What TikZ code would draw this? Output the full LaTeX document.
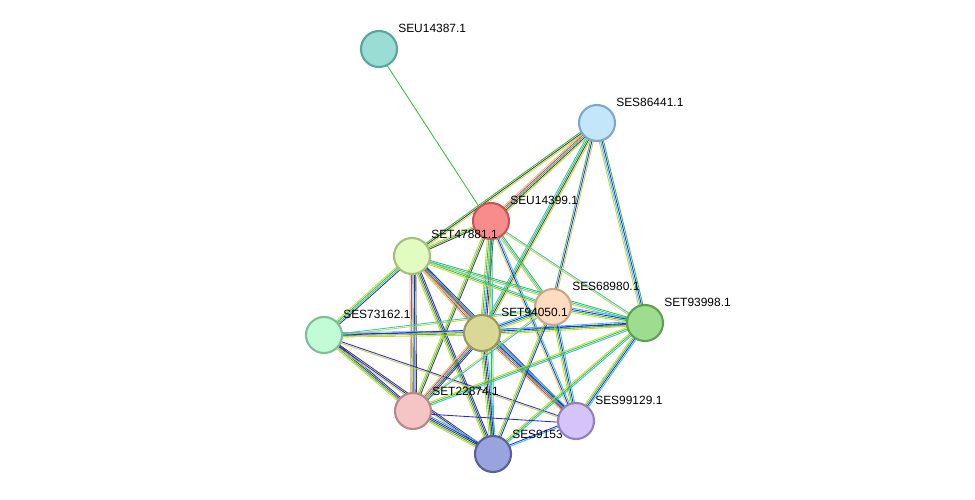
\documentclass[tikz,border=0pt]{standalone}
\usepackage{fontspec}
\setmainfont{Liberation Sans}
\usetikzlibrary{positioning,calc,backgrounds}
\definecolor{eY}{rgb}{0.78,0.84,0.2}
\definecolor{eG}{rgb}{0.2,0.75,0.2}
\definecolor{eB}{rgb}{0.15,0.15,0.95}
\definecolor{eC}{rgb}{0.2,0.75,0.85}
\definecolor{eK}{rgb}{0.25,0.25,0.25}
\definecolor{eM}{rgb}{0.85,0.15,0.8}
\tikzstyle{prot}=[circle, minimum size=0.9cm, inner sep=0pt, line width=1.5pt]
\tikzstyle{lbl}=[anchor=base west, inner sep=0pt, font=\fontsize{8.5}{9}\selectfont]
\tikzstyle{link}=[line width=0.6pt]

\begin{document}
\begin{tikzpicture}[x=0.025cm,y=-0.025cm]
      \useasboundingbox (0,0) rectangle (975,500);

      % proteine
      \node[lbl] (l9153) at (512,438) {SES9153};
      \node[prot, fill={rgb,255:red,153;green,221;blue,213}, draw={rgb,255:red,90;green,165;blue,156}] (p14387) at (379,49) {};
      \node[prot, fill={rgb,255:red,195;green,230;blue,250}, draw={rgb,255:red,127;green,168;blue,200}] (p86441) at (597,123) {};
      \node[prot, fill={rgb,255:red,248;green,140;blue,140}, draw={rgb,255:red,200;green,85;blue,85}] (p14399) at (491,221) {};
      \node[prot, fill={rgb,255:red,226;green,251;blue,192}, draw={rgb,255:red,165;green,191;blue,125}] (p47881) at (412,256) {};
      \node[prot, fill={rgb,255:red,253;green,220;blue,192}, draw={rgb,255:red,201;green,168;blue,138}] (p68980) at (553,307) {};
      \node[prot, fill={rgb,255:red,158;green,221;blue,143}, draw={rgb,255:red,95;green,160;blue,80}] (p93998) at (645,323) {};
      \node[prot, fill={rgb,255:red,194;green,252;blue,214}, draw={rgb,255:red,127;green,191;blue,148}] (p73162) at (324,335) {};
      \node[prot, fill={rgb,255:red,218;green,216;blue,150}, draw={rgb,255:red,154;green,152;blue,96}] (p94050) at (482,333) {};
      \node[prot, fill={rgb,255:red,245;green,196;blue,196}, draw={rgb,255:red,184;green,136;blue,136}] (p22874) at (413,411) {};
      \node[prot, fill={rgb,255:red,212;green,196;blue,250}, draw={rgb,255:red,149;green,128;blue,190}] (p99129) at (576,421) {};
      \node[prot, fill={rgb,255:red,153;green,164;blue,222}, draw={rgb,255:red,86;green,96;blue,154}] (p9153) at (493,454) {};

      % Beschriftungen
      \node[lbl] (l14387) at (398,32) {SEU14387.1};
      \node[lbl] (l86441) at (616,106) {SES86441.1};
      \node[lbl] (l14399) at (510,204) {SEU14399.1};
      \node[lbl] (l47881) at (431,238) {SET47881.1};
      \node[lbl] (l68980) at (572,290) {SES68980.1};
      \node[lbl] (l93998) at (664,306) {SET93998.1};
      \node[lbl] (l73162) at (343,318) {SES73162.1};
      \node[lbl] (l94050) at (501,316) {SET94050.1};
      \node[lbl] (l22874) at (432,395) {SET22874.1};
      \node[lbl] (l99129) at (595,404) {SES99129.1};

      % Verbindungen
      \begin{scope}[on background layer]
      \foreach \a/\b/\cols in {
        14387/14399/{G},
        86441/14399/{Y,M,G,K,Y}, 86441/47881/{G,K,Y}, 86441/94050/{C,G,K,Y},
        86441/68980/{G,B,Y}, 86441/93998/{Y,C,B,G},
        14399/47881/{Y,G,K}, 14399/68980/{Y,C,G}, 14399/93998/{Y,C},
        14399/94050/{Y,G,C,B,K}, 14399/22874/{Y,G,K}, 14399/99129/{Y,B,C},
        14399/9153/{Y,G,C},
        47881/73162/{Y,G,C,K}, 47881/94050/{Y,M,G,K,C}, 47881/68980/{Y,G,C},
        47881/93998/{Y,C,G}, 47881/22874/{Y,M,G,B,K}, 47881/99129/{Y,M,G,B},
        47881/9153/{Y,G,K,B},
        73162/94050/{Y,G,B,C}, 73162/68980/{Y,C}, 73162/93998/{Y,B},
        73162/22874/{Y,G,K,B}, 73162/99129/{Y,B}, 73162/9153/{Y,B,K},
        94050/68980/{Y,G,B,C}, 94050/93998/{Y,G,B,C}, 94050/22874/{Y,M,G,K,B},
        94050/99129/{Y,M,G,B,C}, 94050/9153/{Y,G,K,B,C},
        68980/93998/{Y,G,B,C}, 68980/22874/{Y,C}, 68980/99129/{Y,G,B,C},
        68980/9153/{Y,G,B},
        93998/22874/{Y,G,C}, 93998/99129/{Y,G,B,C}, 93998/9153/{Y,G,C},
        22874/99129/{B}, 22874/9153/{Y,G,K,B,C}, 99129/9153/{B,C}}
      {
        \foreach \c [count=\i] in \cols {
          \pgfmathsetmacro\o{(\i-2.5)*1.05}
          \draw[link, e\c] ($(p\a)!\o pt!90:(p\b)$) -- ($(p\b)!\o pt!-90:(p\a)$);
        }
      }
      \end{scope}
    \end{tikzpicture}
\end{document}
